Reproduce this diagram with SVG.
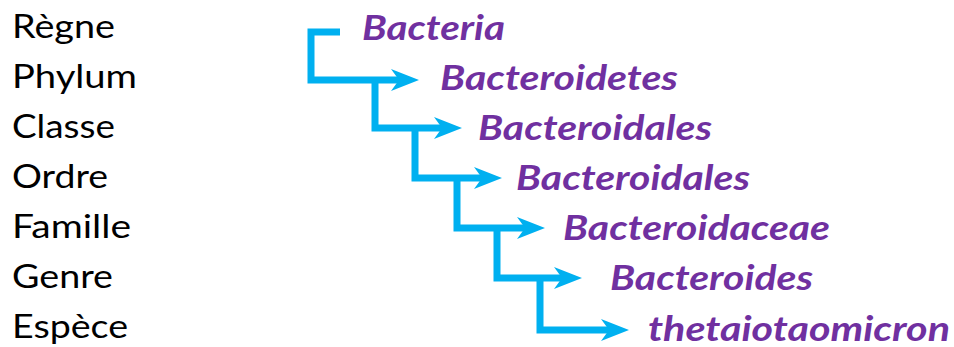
<svg xmlns="http://www.w3.org/2000/svg" width="954" height="347" viewBox="0 0 954 347">
<style>
.rank{font-family:Lato,"Liberation Sans",sans-serif;font-size:33px;fill:#000}
.taxon{font-family:Lato,"Liberation Sans",sans-serif;font-size:34px;font-weight:bold;font-style:italic;fill:#7030A0}
.conn{fill:none;stroke:#00B0F0;stroke-width:7;stroke-linejoin:miter}
</style>
<defs>
<marker id="arr" markerUnits="userSpaceOnUse" viewBox="0 -12 29 24" refX="10" refY="0" markerWidth="29" markerHeight="24" orient="auto">
<path d="M0,-11 L28,0 L0,11 L8,0 Z" fill="#00B0F0"/>
</marker>
</defs>
<rect width="954" height="347" fill="#fff"/>
<g id="ranks">
<text class="rank" x="12" y="38" textLength="103" lengthAdjust="spacingAndGlyphs">Règne</text>
<text class="rank" x="12" y="88" textLength="125" lengthAdjust="spacingAndGlyphs">Phylum</text>
<text class="rank" x="12" y="138" textLength="103" lengthAdjust="spacingAndGlyphs">Classe</text>
<text class="rank" x="12" y="188" textLength="96" lengthAdjust="spacingAndGlyphs">Ordre</text>
<text class="rank" x="12" y="238" textLength="119" lengthAdjust="spacingAndGlyphs">Famille</text>
<text class="rank" x="12" y="288" textLength="101" lengthAdjust="spacingAndGlyphs">Genre</text>
<text class="rank" x="12" y="338" textLength="116" lengthAdjust="spacingAndGlyphs">Espèce</text>
</g>
<g id="n-bacteria"><text class="taxon" x="362" y="40" textLength="143" lengthAdjust="spacingAndGlyphs">Bacteria</text></g>
<g id="n-bacteroidetes"><text class="taxon" x="440" y="90" textLength="238" lengthAdjust="spacingAndGlyphs">Bacteroidetes</text></g>
<g id="n-classe"><text class="taxon" x="478" y="140" textLength="234" lengthAdjust="spacingAndGlyphs">Bacteroidales</text></g>
<g id="n-ordre"><text class="taxon" x="516" y="190" textLength="234" lengthAdjust="spacingAndGlyphs">Bacteroidales</text></g>
<g id="n-famille"><text class="taxon" x="563" y="240" textLength="267" lengthAdjust="spacingAndGlyphs">Bacteroidaceae</text></g>
<g id="n-genre"><text class="taxon" x="610" y="290" textLength="203" lengthAdjust="spacingAndGlyphs">Bacteroides</text></g>
<g id="n-espece"><text class="taxon" x="648" y="341" textLength="302" lengthAdjust="spacingAndGlyphs">thetaiotaomicron</text></g>
<g id="connectors">
<path class="conn" d="M340,32 H311 V80 H401" marker-end="url(#arr)"/>
<path class="conn" d="M375,80 V128 H444" marker-end="url(#arr)"/>
<path class="conn" d="M415,128 V178 H484" marker-end="url(#arr)"/>
<path class="conn" d="M457,178 V228 H527" marker-end="url(#arr)"/>
<path class="conn" d="M497,228 V278 H564" marker-end="url(#arr)"/>
<path class="conn" d="M540,278 V330 H611" marker-end="url(#arr)"/>
</g>
</svg>
